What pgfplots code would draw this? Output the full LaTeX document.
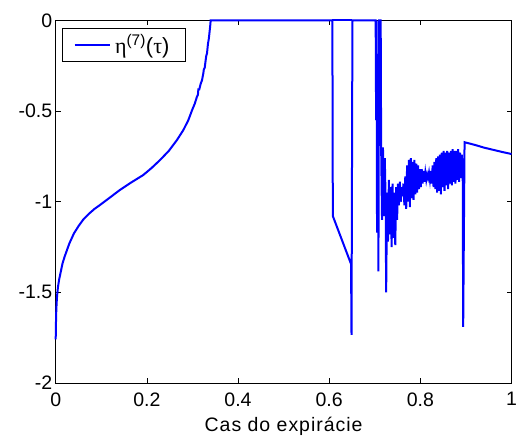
\documentclass[border=0pt]{standalone}
\usepackage{fontspec}
\setmainfont{Liberation Sans}
\newfontfamily\grk{Liberation Serif}
\usepackage{pgfplots}
\pgfplotsset{compat=1.18}
\begin{document}
\begin{tikzpicture}
\useasboundingbox (0,0) rectangle (523pt,441pt);
\begin{axis}[
  scale only axis,
  width=455.8pt, height=362.6pt,
  at={(55.7pt,58pt)}, anchor=south west,
  xmin=0, xmax=1, ymin=-2, ymax=0,
  xtick={0,0.2,0.4,0.6,0.8,1},
  xticklabels={0,0.2,0.4,0.6,0.8,1},
  ytick={-2,-1.5,-1,-0.5,0},
  yticklabels={-2,-1.5,-1,-0.5,0},
  tick align=inside,
  major tick length=5pt,
  tick style={black, line width=0.5pt},
  axis line style={line width=0.8pt},
  clip=false,
  tick label style={font=\fontsize{19.5}{23}\selectfont},
  xticklabel style={yshift=-6pt},
  label style={font=\fontsize{19.5}{23}\selectfont\addfontfeature{LetterSpace=5}},
  xlabel={Cas do expirácie},
  xlabel style={at={(axis description cs:0.5,0)}, anchor=north, yshift=-31pt},
  legend style={at={(0.0145,0.978)}, anchor=north west, draw=black, line width=0.6pt,
    font=\fontsize{22}{26}\selectfont, inner xsep=11pt, inner ysep=4pt,
    nodes={inner xsep=4.5pt}},
  legend cell align=left,
  legend image code/.code={\draw[#1, line width=2pt] (0pt,0pt) -- (35pt,0pt);},
]
\addplot[color={rgb,255:red,0;green,0;blue,255}, line width=2pt] coordinates {
(0,-1.76) (0.0005,-1.68) (0.001,-1.62) (0.002,-1.56) (0.003,-1.52) (0.005,-1.47)
(0.0075,-1.43) (0.01,-1.40) (0.015,-1.34) (0.02,-1.30) (0.03,-1.23) (0.04,-1.175)
(0.05,-1.135) (0.06,-1.10) (0.0675,-1.08) (0.075,-1.062) (0.085,-1.04) (0.0973,-1.018) (0.12,-0.975) (0.141,-0.935)
(0.165,-0.895) (0.192,-0.853) (0.21,-0.815) (0.229,-0.770) (0.248,-0.72) (0.266,-0.66)
(0.28,-0.605) (0.291,-0.55) (0.30,-0.49) (0.305,-0.46) (0.310,-0.42) (0.312,-0.41)
(0.313,-0.38) (0.315,-0.38) (0.318,-0.35) (0.321,-0.33) (0.324,-0.29) (0.325,-0.27)
(0.327,-0.26) (0.330,-0.20) (0.332,-0.18) (0.334,-0.13) (0.336,-0.10) (0.339,-0.03) (0.340,0)
(0.607,0) (0.608,-1.079) (0.648,-1.344) (0.649,-1.735) (0.651,0) (0.702,0)
(0.703,-0.55) (0.704,0) (0.705,-1.17) (0.7065,-0.3) (0.708,-1.385) (0.7095,0) (0.713,0)
(0.714,-0.70) (0.716,-1.10) (0.718,-0.70) (0.720,-1.08) (0.722,-0.76) (0.724,-1.02)
(0.725,-1.50) (0.727,-0.95)
(0.729,-1.22) (0.731,-0.88) (0.733,-1.18) (0.735,-0.92) (0.737,-1.25) (0.739,-0.90)
(0.741,-1.20) (0.743,-0.95) (0.745,-1.24) (0.747,-0.92) (0.749,-1.10) (0.751,-0.90)
(0.753,-1.02) (0.755,-0.89) (0.757,-1.00) (0.759,-0.92) (0.761,-0.97) (0.763,-0.90)
(0.765,-1.02) (0.767,-0.86) (0.769,-1.04) (0.771,-0.80) (0.773,-1.00) (0.775,-0.77)
(0.777,-1.03) (0.779,-0.76) (0.781,-0.98) (0.783,-0.78) (0.785,-0.99) (0.787,-0.77)
(0.789,-0.96) (0.791,-0.79) (0.793,-0.95) (0.795,-0.80) (0.797,-0.93) (0.799,-0.82)
(0.801,-0.92) (0.803,-0.82) (0.805,-0.90) (0.807,-0.83) (0.809,-0.89) (0.811,-0.84)
(0.813,-0.88) (0.815,-0.85) (0.817,-0.87) (0.819,-0.84) (0.821,-0.88) (0.823,-0.83)
(0.825,-0.90) (0.827,-0.80) (0.829,-0.92) (0.831,-0.78) (0.833,-0.93) (0.835,-0.76)
(0.837,-0.95) (0.839,-0.75) (0.841,-0.94) (0.843,-0.74) (0.845,-0.96) (0.847,-0.73)
(0.849,-0.92) (0.851,-0.72) (0.853,-0.94) (0.855,-0.73) (0.857,-0.91) (0.859,-0.72)
(0.861,-0.93) (0.863,-0.73) (0.865,-0.90) (0.867,-0.72) (0.869,-0.91) (0.871,-0.71)
(0.873,-0.89) (0.875,-0.72) (0.877,-0.90) (0.879,-0.72) (0.881,-0.88) (0.883,-0.71)
(0.885,-0.89) (0.887,-0.73) (0.889,-0.87) (0.891,-0.74) (0.893,-0.85)
(0.894,-1.69) (0.897,-0.672) (0.92,-0.687) (0.94,-0.702) (0.96,-0.714) (0.98,-0.726) (1.0,-0.737)
};
\addlegendentry{{\grk η}\textsuperscript{(7)}({\grk τ})}
\addplot[color={rgb,255:red,0;green,0;blue,255}, line width=2pt, forget plot] coordinates {(0.607,0) (0.651,0)};
\end{axis}
\end{tikzpicture}
\end{document}
